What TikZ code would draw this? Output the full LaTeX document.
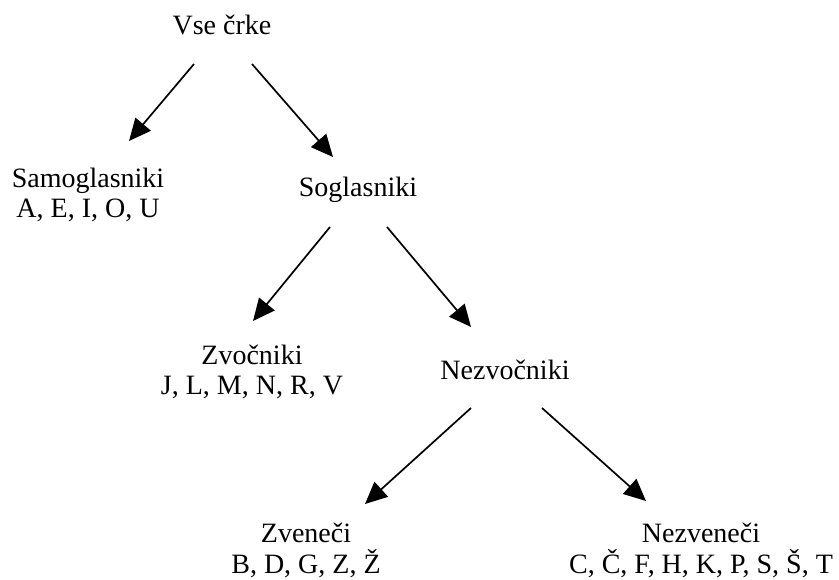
\documentclass[tikz,border=0pt]{standalone}
\usepackage{fontspec}
\setmainfont{Liberation Serif}
\usetikzlibrary{arrows.meta}
\tikzset{
  lbl/.style={inner sep=0pt, align=center, anchor=base, font=\fontsize{28}{30.5}\selectfont},
  arr/.style={line width=1.7pt, -{Triangle[length=22pt,width=20pt]}}
}
\begin{document}
\begin{tikzpicture}[x=1pt,y=-1pt]
\useasboundingbox (0,0) rectangle (839,580);
\node[lbl] (vse) at (222,35) {Vse črke};
\node[lbl] (samo) at (88,218) {Samoglasniki\\A, E, I, O, U};
\node[lbl] (sogl) at (358,197) {Soglasniki};
\node[lbl] (zvoc) at (252,395) {Zvočniki\\J, L, M, N, R, V};
\node[lbl] (nezvoc) at (505,380) {Nezvočniki};
\node[lbl] (zven) at (306,573) {Zveneči\\B, D, G, Z, Ž};
\node[lbl] (nezven) at (701,573) {Nezveneči\\C, Č, F, H, K, P, S, Š, T};
\draw[arr] ([shift={(-28,29)}]vse.base) -- ([shift={(41,-77)}]samo.base);
\draw[arr] ([shift={(30,29)}]vse.base) -- ([shift={(-25,-40)}]sogl.base);
\draw[arr] ([shift={(-28,30)}]sogl.base) -- ([shift={(1,-74)}]zvoc.base);
\draw[arr] ([shift={(29,30)}]sogl.base) -- ([shift={(-34,-53)}]nezvoc.base);
\draw[arr] ([shift={(-34,28)}]nezvoc.base) -- ([shift={(59,-69)}]zven.base);
\draw[arr] ([shift={(37,28)}]nezvoc.base) -- ([shift={(-55,-72)}]nezven.base);
\end{tikzpicture}
\end{document}
